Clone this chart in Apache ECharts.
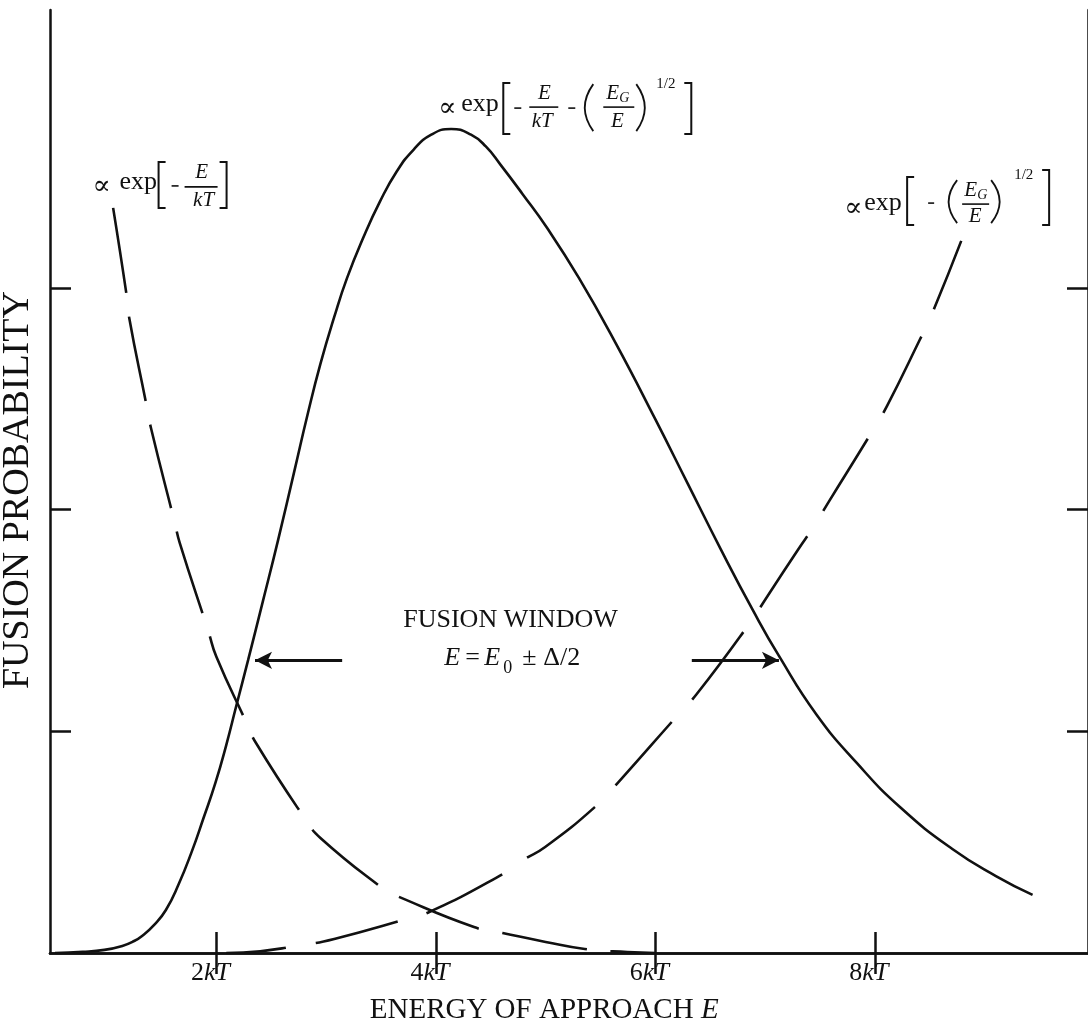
<!DOCTYPE html>
<html>
<head>
<meta charset="utf-8">
<script src="https://cdn.jsdelivr.net/npm/echarts@6/dist/echarts.min.js"></script>
<style>
  html, body { margin: 0; padding: 0; background: #fff; }
  #chart { width: 1088px; height: 1027px; }
</style>
</head>
<body>
<div id="chart"></div>
<script>
// Energy of approach in units of kT; probabilities in arbitrary units.
const energyTicks = [2, 4, 6, 8];
const probTicks = [1, 2, 3];

// Product of the two factors: the Gamow peak
const peakE = [0.529, 0.782, 0.980, 1.143, 1.251, 1.323, 1.431, 1.540, 1.657, 1.774, 1.883, 1.991, 2.090, 2.181, 2.289, 2.424, 2.560, 2.713, 2.830, 2.948, 3.074, 3.191, 3.345, 3.489, 3.643, 3.796, 3.958, 4.139, 4.320, 4.455, 4.590, 4.789, 5.014, 5.303, 5.637, 5.998, 6.296, 6.594, 6.892, 7.126, 7.469, 7.839, 8.236, 8.706, 9.103, 9.437];
const peakP = [0.000, 0.005, 0.014, 0.032, 0.054, 0.077, 0.126, 0.194, 0.311, 0.455, 0.609, 0.767, 0.938, 1.114, 1.321, 1.587, 1.858, 2.179, 2.427, 2.657, 2.869, 3.045, 3.234, 3.388, 3.525, 3.623, 3.691, 3.717, 3.691, 3.638, 3.555, 3.424, 3.270, 3.045, 2.752, 2.409, 2.116, 1.823, 1.543, 1.340, 1.075, 0.855, 0.655, 0.469, 0.347, 0.262];

// Maxwell-Boltzmann factor
const boltzE = [1.052, 1.179, 1.206, 1.359, 1.404, 1.621, 1.666, 1.928, 2.000, 2.271, 2.361, 2.803, 2.948, 3.534, 3.625, 4.347, 4.608, 5.000, 5.357, 5.745, 6.000];
const boltzP = [3.383, 2.977, 2.864, 2.481, 2.368, 1.940, 1.850, 1.449, 1.336, 1.042, 0.947, 0.609, 0.519, 0.284, 0.261, 0.117, 0.090, 0.050, 0.018, 0.004, 0.000];

// Barrier penetration factor
const tunnelE = [2.09, 2.244, 2.785, 3.074, 3.733, 3.940, 4.545, 4.798, 4.996, 5.448, 5.664, 6.197, 6.377, 6.847, 7.027, 7.298, 7.451, 7.578, 7.966, 8.110, 8.408, 8.516, 8.787];
const tunnelP = [0.000, 0.002, 0.036, 0.063, 0.153, 0.185, 0.338, 0.420, 0.478, 0.658, 0.771, 1.069, 1.168, 1.479, 1.614, 1.818, 1.930, 2.034, 2.345, 2.467, 2.765, 2.878, 3.212];

// Fusion window arrows: [from E, to E, level]
const windowArrows = [[3.146, 2.352, 1.32], [6.332, 7.126, 1.32]];

const zip = (xs, ys) => xs.map((x, i) => [x, ys[i]]);

const INK = '#111';
const SERIF = '"Liberation Serif", "Times New Roman", "DejaVu Serif", serif';

const chart = echarts.init(document.getElementById('chart'), null, { renderer: 'canvas' });

const axisLineStyle = { color: INK, width: 2.5 };
const tickStyle = { color: INK, width: 2.5 };

chart.setOption({
  animation: false,
  backgroundColor: '#fff',
  grid: { left: 50, top: 10, right: -10, bottom: 74, containLabel: false },
  xAxis: [
    {
      type: 'value', min: 0.484, max: 9.942, position: 'bottom',
      axisLine: { show: true, lineStyle: axisLineStyle },
      axisTick: { show: true, inside: true, length: 21, lineStyle: tickStyle, customValues: energyTicks },
      axisLabel: {
        show: true, margin: 7, customValues: energyTicks, padding: [0, 12, 0, 0],
        formatter: v => '{n|' + v + '}{i|kT}',
        rich: {
          n: { fontFamily: SERIF, fontSize: 26, color: INK },
          i: { fontFamily: SERIF, fontSize: 26, fontStyle: 'italic', color: INK }
        }
      },
      splitLine: { show: false }
    },
    {
      type: 'value', min: 0.484, max: 9.942, position: 'top',
      axisLine: { show: true, lineStyle: axisLineStyle },
      axisTick: { show: true, inside: true, length: 21, lineStyle: tickStyle, customValues: energyTicks },
      axisLabel: { show: false },
      splitLine: { show: false }
    }
  ],
  yAxis: [
    {
      type: 'value', min: 0, max: 4.2535, position: 'left',
      axisLine: { show: true, lineStyle: axisLineStyle },
      axisTick: { show: true, inside: true, length: 21, lineStyle: tickStyle, customValues: probTicks },
      axisLabel: { show: false },
      splitLine: { show: false }
    },
    {
      type: 'value', min: 0, max: 4.2535, position: 'right',
      axisLine: { show: true, lineStyle: axisLineStyle },
      axisTick: { show: true, inside: true, length: 21, lineStyle: tickStyle, customValues: probTicks },
      axisLabel: { show: false },
      splitLine: { show: false }
    }
  ],
  series: [
    {
      name: 'peak', type: 'line', data: zip(peakE, peakP),
      showSymbol: false, smooth: 0.5,
      lineStyle: { color: INK, width: 2.6 },
      markLine: {
        silent: true, symbol: ['none', 'arrow'], symbolSize: [13, 17],
        lineStyle: { type: 'solid', color: INK, width: 3 },
        itemStyle: { color: INK },
        label: { show: false },
        data: windowArrows.map(a => [{ coord: [a[0], a[2]] }, { coord: [a[1], a[2]] }])
      }
    },
    {
      name: 'boltzmann', type: 'line', data: zip(boltzE, boltzP),
      showSymbol: false, smooth: 0.5,
      lineStyle: { color: INK, width: 2.6, type: [86, 24], dashOffset: -5 }
    },
    {
      name: 'tunnel', type: 'line', data: zip(tunnelE, tunnelP),
      showSymbol: false, smooth: 0.5,
      lineStyle: { color: INK, width: 2.6, type: [85, 30], dashOffset: 25 }
    }
  ]
});

// ---- annotation helpers (offsets in px relative to an anchor placed in data space) ----
function txt(x, y, s, size, italic, align) {
  return {
    type: 'text', x: x, y: y, silent: true,
    style: {
      text: s, fill: INK,
      font: (italic ? 'italic ' : '') + size + 'px ' + SERIF,
      align: align || 'left', verticalAlign: 'middle',
      textAlign: align || 'left', textVerticalAlign: 'middle'
    }
  };
}
function seg(x1, y1, x2, y2, w) {
  return { type: 'line', silent: true, shape: { x1, y1, x2, y2 }, style: { stroke: INK, lineWidth: w || 1.6 } };
}
function bracket(x, t, b, dir) {
  // dir = 1 opening "[", -1 closing "]"
  const hook = 7 * dir;
  return {
    type: 'polyline', silent: true,
    shape: { points: [[x + hook, t], [x, t], [x, b], [x + hook, b]] },
    style: { stroke: INK, lineWidth: 2, fill: null }
  };
}
function paren(x, t, b, bulge) {
  return {
    type: 'bezierCurve', silent: true,
    shape: { x1: x, y1: t, x2: x, y2: b, cpx1: x + bulge, cpy1: (t + b) / 2 },
    style: { stroke: INK, lineWidth: 1.8, fill: null }
  };
}
function px(e, p) { return chart.convertToPixel({ gridIndex: 0 }, [e, p]); }
function group(e, p, children) {
  const q = px(e, p);
  return { type: 'group', x: q[0], y: q[1], children: children };
}

// ∝ exp[-E/kT]
const formulaBoltz = group(0.872, 3.460, [
  txt(0, 1, '∝', 27, false),
  txt(27, -4, 'exp', 26, false),
  bracket(66, -24, 22, 1),
  seg(79, 0, 86, 0),
  seg(92, 1, 125, 1),
  txt(109, -13, 'E', 21, true, 'center'),
  txt(111, 15, 'kT', 21, true, 'center'),
  bracket(134, -24, 22, -1)
]);

// ∝ exp[-E/kT - (E_G/E)^1/2]
const formulaPeak = group(4.022, 3.811, [
  txt(0, 1, '∝', 27, false),
  txt(23, -4, 'exp', 26, false),
  bracket(65, -25, 26, 1),
  seg(76, 0, 83, 0),
  seg(91, -1, 120, -1),
  txt(106, -15, 'E', 21, true, 'center'),
  txt(104, 13, 'kT', 21, true, 'center'),
  seg(130, 0, 137, 0),
  paren(155, -24, 23, -17),
  txt(168, -15, 'E', 21, true),
  txt(181, -10, 'G', 14, true),
  seg(165, -1, 196, -1),
  txt(179, 13, 'E', 21, true, 'center'),
  paren(198, -24, 23, 17),
  txt(218, -24, '1/2', 15, false),
  bracket(253, -25, 26, -1)
]);

// ∝ exp[-(E_G/E)^1/2]
const formulaTunnel = group(7.72, 3.369, [
  txt(0, 3, '∝', 27, false),
  txt(20, -3, 'exp', 26, false),
  bracket(63, -29, 19, 1),
  seg(84, -3, 90, -3),
  paren(113, -26, 17, -17),
  txt(120, -16, 'E', 21, true),
  txt(133, -11, 'G', 14, true),
  seg(118, -2, 145, -2),
  txt(131, 10, 'E', 21, true, 'center'),
  paren(147, -26, 17, 17),
  txt(170, -31, '1/2', 15, false),
  bracket(205, -36, 19, -1)
]);

// Fusion window caption
const windowTitle = group(4.68, 1.502, [txt(0, 0, 'FUSION WINDOW', 26, false, 'center')]);
const windowRange = group(4.076, 1.331, [
  txt(0, 0, 'E', 26, true),
  txt(21, 0, '=', 26, false),
  txt(40, 0, 'E', 26, true),
  txt(59, 10, '0', 18, false),
  txt(78, 0, '±', 26, false),
  txt(99, 0, 'Δ/2', 26, false)
]);

// Axis titles
const xq = px(4.987, -0.257);
const yq = px(0.195, 2.088);
const xTitle = {
  type: 'text', x: xq[0], y: xq[1], silent: true,
  style: {
    text: '{a|ENERGY OF APPROACH }{b|E}',
    align: 'center', verticalAlign: 'middle', textAlign: 'center', textVerticalAlign: 'middle',
    rich: {
      a: { fontFamily: SERIF, fontSize: 29, fill: INK, color: INK },
      b: { fontFamily: SERIF, fontSize: 29, fontStyle: 'italic', fill: INK, color: INK }
    }
  }
};
const yTitle = {
  type: 'text', x: yq[0], y: yq[1], rotation: Math.PI / 2, silent: true,
  style: {
    text: 'FUSION PROBABILITY', fill: INK, font: '38px ' + SERIF,
    align: 'center', verticalAlign: 'middle', textAlign: 'center', textVerticalAlign: 'middle'
  }
};

chart.setOption({
  graphic: [formulaBoltz, formulaPeak, formulaTunnel, windowTitle, windowRange, xTitle, yTitle]
});
</script>
</body>
</html>
